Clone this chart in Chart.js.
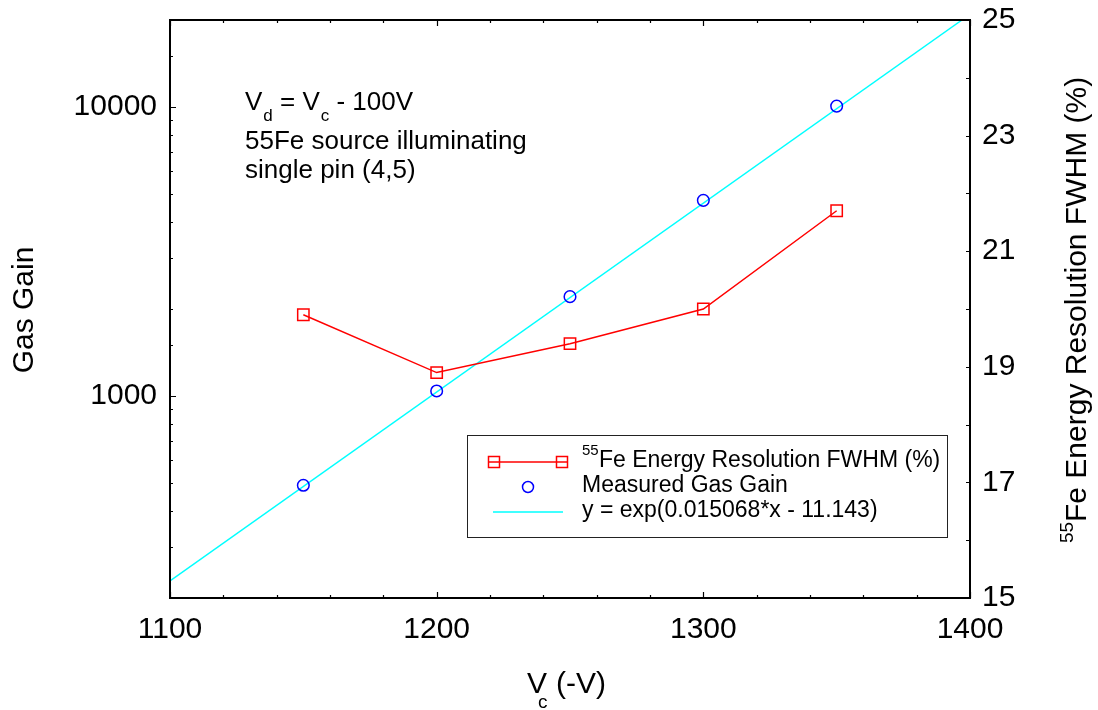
<!DOCTYPE html>
<html>
<head>
<meta charset="utf-8">
<script src="https://cdn.jsdelivr.net/npm/chart.js@4.4.1/dist/chart.umd.min.js"></script>
<style>
  html, body { margin: 0; padding: 0; background: #fff; }
  #wrap { width: 1098px; height: 710px; }
</style>
</head>
<body>
<div id="wrap"><canvas id="c" width="1098" height="710"></canvas></div>
<script>
// ---- data ----
const voltages = [1150, 1200, 1250, 1300, 1350];
const gasGain = [491, 1041, 2207, 4753, 10070];
const resolution = [19.9, 18.9, 19.4, 20.0, 21.7];
const fitVoltages = [1100, 1397];
const fitGain = [229, 20000];
const xTickLabels = [1100, 1200, 1300, 1400];
const gainTickLabels = [1000, 10000];
const resTickLabels = [15, 17, 19, 21, 23, 25];
const legendLabels = ['Fe Energy Resolution FWHM (%)', 'Measured Gas Gain', 'y = exp(0.015068*x - 11.143)'];

const FONT = '"Liberation Sans", Arial, Helvetica, sans-serif';
const RED = '#ff0000', BLUE = '#0000ff', CYAN = '#00ffff';

const decorPlugin = {
  id: 'decor',
  afterDraw(chart) {
    const ctx = chart.ctx;
    const a = chart.chartArea;
    const xs = chart.scales.x, ys = chart.scales.y, y2 = chart.scales.y2;
    ctx.save();
    // frame
    ctx.strokeStyle = '#000';
    ctx.lineWidth = 2;
    ctx.strokeRect(a.left, a.top, a.right - a.left, a.bottom - a.top);
    // inward ticks
    ctx.lineWidth = 1.2;
    ctx.beginPath();
    for (let v = xs.min; v <= xs.max + 0.001; v += 20) {
      const px = Math.round(xs.getPixelForValue(v)) + 0.5;
      const len = (v % 100 === 0) ? 6 : 3;
      ctx.moveTo(px, a.bottom); ctx.lineTo(px, a.bottom - len);
      ctx.moveTo(px, a.top); ctx.lineTo(px, a.top + len);
    }
    ys.ticks.forEach(t => {
      const py = Math.round(ys.getPixelForValue(t.value)) + 0.5;
      const major = gainTickLabels.includes(t.value);
      ctx.moveTo(a.left, py); ctx.lineTo(a.left + (major ? 6 : 3), py);
    });
    y2.ticks.forEach(t => {
      const py = Math.round(y2.getPixelForValue(t.value)) + 0.5;
      ctx.moveTo(a.right, py); ctx.lineTo(a.right - 4, py);
    });
    ctx.stroke();

    ctx.fillStyle = '#000';
    ctx.textAlign = 'left';
    ctx.textBaseline = 'alphabetic';
    // annotation
    let x = 245;
    ctx.font = '26px ' + FONT;
    ctx.fillText('V', x, 110); x += ctx.measureText('V').width;
    ctx.font = '17px ' + FONT;
    ctx.fillText('d', x + 1, 121); x += ctx.measureText('d').width + 1;
    ctx.font = '26px ' + FONT;
    ctx.fillText(' = V', x, 110); x += ctx.measureText(' = V').width;
    ctx.font = '17px ' + FONT;
    ctx.fillText('c', x + 1, 121); x += ctx.measureText('c').width + 1;
    ctx.font = '26px ' + FONT;
    ctx.fillText(' - 100V', x, 110);
    ctx.fillText('55Fe source illuminating', 245, 149);
    ctx.fillText('single pin (4,5)', 245, 178);

    // legend
    ctx.lineWidth = 1;
    ctx.strokeStyle = '#222';
    ctx.strokeRect(467.5, 435.5, 480, 102);
    // row 1
    ctx.strokeStyle = RED; ctx.lineWidth = 1.5;
    ctx.beginPath(); ctx.moveTo(488, 462); ctx.lineTo(568, 462); ctx.stroke();
    ctx.strokeRect(488.5, 456.5, 11, 11);
    ctx.strokeRect(556.5, 456.5, 11, 11);
    // row 2
    ctx.strokeStyle = BLUE;
    ctx.beginPath(); ctx.arc(528, 487, 5.5, 0, Math.PI * 2); ctx.stroke();
    // row 3
    ctx.strokeStyle = CYAN;
    ctx.beginPath(); ctx.moveTo(493, 512); ctx.lineTo(563, 512); ctx.stroke();
    ctx.fillStyle = '#000';
    ctx.font = '15px ' + FONT;
    ctx.fillText('55', 582, 455);
    ctx.font = '23px ' + FONT;
    ctx.fillText(legendLabels[0], 599, 467);
    ctx.fillText(legendLabels[1], 582, 492);
    ctx.fillText(legendLabels[2], 582, 517);

    // x title
    ctx.font = '30px ' + FONT;
    ctx.fillText('V', 527, 693);
    ctx.font = '19px ' + FONT;
    ctx.fillText('c', 538, 708);
    ctx.font = '30px ' + FONT;
    ctx.fillText('(-V)', 556, 693);

    // left title
    ctx.save();
    ctx.translate(33, 310);
    ctx.rotate(-Math.PI / 2);
    ctx.textAlign = 'center';
    ctx.font = '30px ' + FONT;
    ctx.fillText('Gas Gain', 0, 0);
    ctx.restore();

    // right title
    ctx.save();
    ctx.translate(1086, 310);
    ctx.rotate(-Math.PI / 2);
    ctx.textAlign = 'left';
    ctx.font = '19px ' + FONT;
    const w55 = ctx.measureText('55').width;
    ctx.font = '30px ' + FONT;
    const main = 'Fe Energy Resolution FWHM (%)';
    const wMain = ctx.measureText(main).width;
    const start = -(w55 + wMain) / 2;
    ctx.font = '19px ' + FONT;
    ctx.fillText('55', start, -13);
    ctx.font = '30px ' + FONT;
    ctx.fillText(main, start + w55, 0);
    ctx.restore();

    ctx.restore();
  }
};

function noPad(s) { s.paddingTop = 0; s.paddingBottom = 0; s.paddingLeft = 0; s.paddingRight = 0; }

new Chart(document.getElementById('c'), {
  type: 'scatter',
  data: {
    datasets: [
      {
        label: 'fit',
        data: fitVoltages.map((v, i) => ({ x: v, y: fitGain[i] })),
        yAxisID: 'y',
        showLine: true,
        borderColor: CYAN,
        borderWidth: 1.5,
        pointRadius: 0,
        fill: false,
        order: 3
      },
      {
        label: 'Measured Gas Gain',
        data: voltages.map((v, i) => ({ x: v, y: gasGain[i] })),
        yAxisID: 'y',
        showLine: false,
        pointStyle: 'circle',
        pointRadius: 5.8,
        borderColor: BLUE,
        backgroundColor: 'rgba(0,0,0,0)',
        borderWidth: 1.5,
        order: 2
      },
      {
        label: 'Resolution',
        data: voltages.map((v, i) => ({ x: v, y: resolution[i] })),
        yAxisID: 'y2',
        showLine: true,
        pointStyle: 'rect',
        pointRadius: 8,
        borderColor: RED,
        backgroundColor: 'rgba(0,0,0,0)',
        pointBorderColor: RED,
        borderWidth: 1.5,
        order: 1
      }
    ]
  },
  options: {
    responsive: false,
    animation: false,
    devicePixelRatio: 1,
    layout: { padding: { top: 20, left: 0, right: 0, bottom: 0 } },
    plugins: { legend: { display: false }, tooltip: { enabled: false } },
    scales: {
      x: {
        type: 'linear',
        position: 'bottom',
        min: 1100, max: 1400,
        afterFit: s => { s.height = 112; noPad(s); },
        afterBuildTicks: s => { s.ticks = xTickLabels.map(v => ({ value: v })); },
        grid: { display: false, drawTicks: false },
        border: { display: false },
        ticks: { color: '#000', font: { family: FONT, size: 30 }, padding: 14, maxRotation: 0, autoSkip: false,
          callback: v => String(v) }
      },
      y: {
        type: 'logarithmic',
        position: 'left',
        min: 200, max: 20000,
        afterFit: s => { s.width = 170; noPad(s); },
        grid: { display: false, drawTicks: false },
        border: { display: false },
        ticks: {
          color: '#000', font: { family: FONT, size: 30 }, padding: 13, autoSkip: false,
          callback: v => gainTickLabels.includes(v) ? String(v) : ''
        }
      },
      y2: {
        type: 'linear',
        position: 'right',
        min: 15, max: 25,
        afterFit: s => { s.width = 128; noPad(s); },
        grid: { display: false, drawTicks: false },
        border: { display: false },
        ticks: {
          stepSize: 1, color: '#000', font: { family: FONT, size: 30 }, padding: 12, autoSkip: false,
          callback: v => resTickLabels.includes(v) ? String(v) : ''
        }
      }
    }
  },
  plugins: [decorPlugin]
});
</script>
</body>
</html>
